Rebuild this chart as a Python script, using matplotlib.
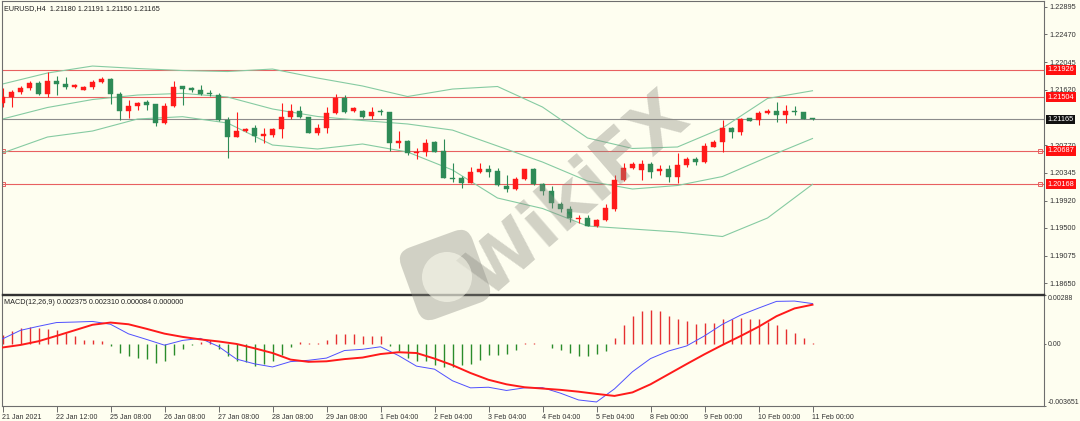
import matplotlib
matplotlib.use('Agg')
import matplotlib.pyplot as plt
import matplotlib.transforms as mtransforms
from matplotlib.patches import FancyBboxPatch, Circle

# EURUSD H4 candles (index 0 = oldest)
opens = [1.21418, 1.21505, 1.21582, 1.21648, 1.21729, 1.21551, 1.21755, 1.21714, 1.21659, 1.21622,
         1.21663, 1.21735, 1.21791, 1.21560, 1.21295, 1.21376, 1.21428, 1.21398, 1.21111, 1.21367,
         1.21679, 1.21643, 1.21622, 1.21576, 1.21545, 1.21157, 1.20901, 1.20988, 1.21030, 1.20907,
         1.20931, 1.21014, 1.21208, 1.21300, 1.21198, 1.20953, 1.21030, 1.21260, 1.21490, 1.21295,
         1.21295, 1.21218, 1.21290, 1.21275, 1.20809, 1.20835, 1.20651, 1.20671, 1.20815, 1.20681,
         1.20271, 1.20267, 1.20195, 1.20354, 1.20410, 1.20370, 1.20144, 1.20098, 1.20247, 1.20410,
         1.20170, 1.20072, 1.19868, 1.19787, 1.19633, 1.19658, 1.19535, 1.19623, 1.19791, 1.20236,
         1.20416, 1.20390, 1.20477, 1.20379, 1.20400, 1.20287, 1.20466, 1.20554, 1.20517, 1.20747,
         1.20815, 1.21039, 1.20977, 1.21183, 1.21157, 1.21269, 1.21300, 1.21234, 1.21300, 1.21275,
         1.21180]
highs = [1.21648, 1.21617, 1.21679, 1.21763, 1.21763, 1.21893, 1.21832, 1.21812, 1.21702, 1.21674,
         1.21771, 1.21812, 1.21794, 1.21582, 1.21464, 1.21438, 1.21464, 1.21402, 1.21413, 1.21751,
         1.21686, 1.21668, 1.21694, 1.21617, 1.21566, 1.21198, 1.21284, 1.21030, 1.21080, 1.21030,
         1.21034, 1.21413, 1.21398, 1.21376, 1.21203, 1.21091, 1.21361, 1.21551, 1.21540, 1.21352,
         1.21310, 1.21352, 1.21321, 1.21284, 1.20993, 1.20845, 1.20723, 1.20870, 1.20830, 1.20870,
         1.20492, 1.20298, 1.20431, 1.20492, 1.20466, 1.20416, 1.20313, 1.20287, 1.20410, 1.20416,
         1.20186, 1.20144, 1.19903, 1.19837, 1.19699, 1.19699, 1.19638, 1.19868, 1.20313, 1.20492,
         1.20517, 1.20543, 1.20517, 1.20466, 1.20466, 1.20646, 1.20585, 1.20585, 1.20799, 1.20850,
         1.21157, 1.21054, 1.21192, 1.21195, 1.21300, 1.21321, 1.21428, 1.21387, 1.21372, 1.21280,
         1.21191]
lows = [1.21356, 1.21352, 1.21563, 1.21617, 1.21533, 1.21505, 1.21536, 1.21628, 1.21651, 1.21610,
        1.21632, 1.21725, 1.21398, 1.21152, 1.21192, 1.21310, 1.21310, 1.21060, 1.21096, 1.21352,
        1.21387, 1.21582, 1.21545, 1.21525, 1.21142, 1.20569, 1.20891, 1.20977, 1.20824, 1.20799,
        1.20896, 1.20876, 1.21168, 1.21188, 1.20950, 1.20927, 1.20953, 1.21249, 1.21264, 1.21280,
        1.21188, 1.21168, 1.21234, 1.20686, 1.20723, 1.20620, 1.20554, 1.20604, 1.20661, 1.20262,
        1.20210, 1.20109, 1.20186, 1.20344, 1.20278, 1.20149, 1.20057, 1.20087, 1.20236, 1.20164,
        1.20006, 1.19802, 1.19745, 1.19597, 1.19581, 1.19531, 1.19515, 1.19607, 1.19765, 1.20221,
        1.20405, 1.20236, 1.20262, 1.20313, 1.20210, 1.20186, 1.20436, 1.20466, 1.20492, 1.20743,
        1.20671, 1.20876, 1.20927, 1.21142, 1.21080, 1.21249, 1.21131, 1.21115, 1.21234, 1.21165,
        1.21150]
closes = [1.21505, 1.21582, 1.21648, 1.21729, 1.21551, 1.21751, 1.21714, 1.21659, 1.21694, 1.21663,
          1.21740, 1.21791, 1.21560, 1.21295, 1.21376, 1.21418, 1.21387, 1.21111, 1.21367, 1.21668,
          1.21637, 1.21617, 1.21556, 1.21556, 1.21152, 1.20901, 1.20993, 1.21019, 1.20907, 1.20942,
          1.21014, 1.21208, 1.21300, 1.21198, 1.20962, 1.21030, 1.21260, 1.21490, 1.21284, 1.21341,
          1.21208, 1.21284, 1.21275, 1.20809, 1.20839, 1.20655, 1.20671, 1.20809, 1.20671, 1.20271,
          1.20252, 1.20195, 1.20354, 1.20410, 1.20364, 1.20160, 1.20098, 1.20247, 1.20400, 1.20175,
          1.20072, 1.19879, 1.19787, 1.19658, 1.19658, 1.19535, 1.19623, 1.19802, 1.20236, 1.20425,
          1.20482, 1.20477, 1.20364, 1.20410, 1.20278, 1.20462, 1.20554, 1.20517, 1.20762, 1.20815,
          1.21039, 1.20977, 1.21168, 1.21146, 1.21269, 1.21300, 1.21234, 1.21300, 1.21284, 1.21172,
          1.21165]

# Bollinger bands, read every 5 candles
band_idx = list(range(0, 91, 5))
band_upper = [1.21709, 1.21878, 1.21985, 1.21947, 1.21916, 1.21901, 1.21939, 1.21801, 1.21679, 1.21517,
              1.21632, 1.21671, 1.21356, 1.20881, 1.20720, 1.20743, 1.21034, 1.21487, 1.21606]
band_mid = [1.21172, 1.21349, 1.21471, 1.21540, 1.21566, 1.21510, 1.21326, 1.21211, 1.21149, 1.21096,
            1.21002, 1.20758, 1.20512, 1.20221, 1.20098, 1.20152, 1.20290, 1.20589, 1.20873]
band_lower = [1.20651, 1.20896, 1.20988, 1.21172, 1.21208, 1.21111, 1.20773, 1.20712, 1.20789, 1.20666,
              1.20390, 1.19960, 1.19799, 1.19530, 1.19484, 1.19438, 1.19369, 1.19653, 1.20170]

# MACD(12,26,9): lines read every 2 candles, histogram per candle
macd_idx = list(range(0, 91, 2))
macd_main = [0.000297, 0.000801, 0.001039, 0.001259, 0.001288, 0.001324, 0.001158, 0.000594, 0.000267,
             -0.000071, 0.000208, 0.000327, -0.000148, -0.000891, -0.001170, -0.001354, -0.001039,
             -0.000962, -0.000831, -0.000386, -0.000315, -0.000166, -0.000683, -0.001306, -0.001484,
             -0.002167, -0.002583, -0.002547, -0.002737, -0.002583, -0.002571, -0.002897, -0.003295,
             -0.003414, -0.002642, -0.001633, -0.000861, -0.000416, -0.000119, 0.000475, 0.001158,
             0.001692, 0.002108, 0.002505, 0.002523, 0.002375]
macd_signal = [-0.000208, -0.000059, 0.000160, 0.000475, 0.000801, 0.001128, 0.001259, 0.001158, 0.000891,
               0.000606, 0.000416, 0.000267, 0.000148, 0.0, -0.000255, -0.000534, -0.000920, -0.001051,
               -0.001021, -0.000891, -0.000801, -0.000594, -0.000487, -0.000534, -0.000861, -0.001247,
               -0.001710, -0.002108, -0.002375, -0.002547, -0.002624, -0.002701, -0.002808, -0.002939,
               -0.003058, -0.002850, -0.002375, -0.001781, -0.001187, -0.000606, -0.000059, 0.000463,
               0.001009, 0.001633, 0.002090, 0.002310]
macd_hist = [0.00055, 0.00075, 0.00095, 0.00101, 0.00095, 0.00089, 0.00081, 0.00065, 0.00046, 0.00026,
             0.00022, 0.00016, -0.00010, -0.00053, -0.00073, -0.00083, -0.00089, -0.00113, -0.00103, -0.00063,
             -0.00030, -0.00006, 0.00010, 0.00026, -0.00030, -0.00073, -0.00099, -0.00109, -0.00129, -0.00117,
             -0.00103, -0.00063, -0.00018, 0.00012, 0.00006, 0.00006, 0.00026, 0.00059, 0.00061, 0.00061,
             0.00049, 0.00049, 0.00046, -0.00010, -0.00044, -0.00083, -0.00103, -0.00103, -0.00123, -0.00133,
             -0.00137, -0.00123, -0.00117, -0.00093, -0.00065, -0.00063, -0.00057, -0.00038, 0.00006, 0.00006,
             0.00002, -0.00024, -0.00038, -0.00053, -0.00069, -0.00073, -0.00059, -0.00040, 0.00036, 0.00109,
             0.00164, 0.00194, 0.00200, 0.00194, 0.00164, 0.00144, 0.00135, 0.00119, 0.00121, 0.00125,
             0.00144, 0.00144, 0.00154, 0.00148, 0.00144, 0.00129, 0.00111, 0.00089, 0.00065, 0.00036,
             0.000084]

level_lines = [1.21926, 1.21504, 1.20687, 1.20168]
last_price = 1.21165
price_ticks = [1.22895, 1.22470, 1.22045, 1.21620, 1.20770, 1.20345, 1.19920, 1.19500, 1.19075, 1.18650]
price_tick_labels = ['1.22895', '1.22470', '1.22045', '1.21620', '1.20770', '1.20345', '1.19920',
                     '1.19500', '1.19075', '1.18650']
macd_ticks = [0.00288, 0.0, -0.003651]
macd_tick_labels = ['0.00288', '0.00', '-0.003651']
time_ticks = list(range(0, 91, 6))
time_labels = ['21 Jan 2021', '22 Jan 12:00', '25 Jan 08:00', '26 Jan 08:00', '27 Jan 08:00',
               '28 Jan 08:00', '29 Jan 08:00', '1 Feb 04:00', '2 Feb 04:00', '3 Feb 04:00',
               '4 Feb 04:00', '5 Feb 04:00', '8 Feb 00:00', '9 Feb 00:00', '10 Feb 00:00', '11 Feb 00:00']

BG = '#fefef0'
UP = '#ff1a1a'
DOWN = '#2e8b57'
FONT = 'Liberation Sans'

W, H = 1080, 421
fig = plt.figure(figsize=(W / 100, H / 100), dpi=100, facecolor=BG)

# panel geometry in pixels -> figure fractions
left_px, right_px = 1.5, 1044
ax = fig.add_axes([left_px / W, 1 - 294 / H, (right_px - left_px) / W, 293 / H], facecolor=BG)
ax2 = fig.add_axes([left_px / W, 1 - 406 / H, (right_px - left_px) / W, 111 / H], facecolor=BG)

xlim = (-1 / 9, (right_px - 2.5) / 9)

# ---- price panel ----
for lvl in level_lines:
    ax.axhline(lvl, color='#e86060', lw=0.8, zorder=1)
ax.axhline(last_price, color='#8c8c8c', lw=0.8, zorder=1)
for lvl in level_lines[2:]:
    ax.plot([0.05, 115.3], [lvl, lvl], ls='none', marker='s', ms=2.5, mfc='none', mec='#e86060', mew=0.7)

for band in (band_upper, band_mid, band_lower):
    ax.plot(band_idx, band, color='#86cba2', lw=0.8, zorder=2)

for i in range(len(opens)):
    col = UP if closes[i] >= opens[i] else DOWN
    ax.vlines(i, lows[i], highs[i], color=col, lw=0.8, zorder=3)
    lo, hi = min(opens[i], closes[i]), max(opens[i], closes[i])
    ax.bar(i, max(hi - lo, 0.00003), bottom=lo, width=0.62, color=col, edgecolor=col, lw=0.3, zorder=4)

ax.set_xlim(*xlim)
ax.set_ylim(1.18487, 1.22983)
ax.yaxis.tick_right()
ax.set_yticks(price_ticks)
ax.set_yticklabels(price_tick_labels, fontsize=5.3, family=FONT, color='#333333')
ax.tick_params(axis='y', length=2.5, width=0.6, pad=1.5, colors='#555555', labelcolor='#333333')
ax.set_xticks([])

blend = mtransforms.blended_transform_factory(ax.transAxes, ax.transData)
for lvl in level_lines:
    ax.text(1.0035, lvl, f'{lvl:.5f}', transform=blend, fontsize=5.3, family=FONT, color='white',
            va='center', ha='left', zorder=6,
            bbox=dict(boxstyle='square,pad=0.2', fc='#ff1010', ec='none'))
ax.text(1.0035, last_price, f'{last_price:.5f}', transform=blend, fontsize=5.3, family=FONT,
        color='white', va='center', ha='left', zorder=6,
        bbox=dict(boxstyle='square,pad=0.2', fc='#111111', ec='none'))

ax.text(0.002, 0.985, 'EURUSD,H4  1.21180 1.21191 1.21150 1.21165', transform=ax.transAxes,
        fontsize=5.2, family=FONT, color='#222222', va='top', ha='left')

# ---- MACD panel ----
for i, v in enumerate(macd_hist):
    ax2.vlines(i, 0, v, color='#e53030' if v >= 0 else '#2a8c2a', lw=1.0, zorder=2)
ax2.plot(macd_idx, macd_main, color='#5050ff', lw=0.7, zorder=3)
ax2.plot(macd_idx, macd_signal, color='#ff1a1a', lw=1.4, zorder=4)

ax2.set_xlim(*xlim)
ax2.set_ylim(-0.003651, 0.00288)
ax2.yaxis.tick_right()
ax2.set_yticks(macd_ticks)
ax2.set_yticklabels(macd_tick_labels, fontsize=5.0, family=FONT)
ax2.tick_params(axis='y', length=1.5, width=0.6, pad=1.0, colors='#555555', labelcolor='#333333')
ylabs = ax2.get_yticklabels()
ylabs[0].set_va('top')
ylabs[-1].set_va('bottom')
ax2.set_xticks(time_ticks)
ax2.set_xticklabels(time_labels, fontsize=5.1, family=FONT)
ax2.tick_params(axis='x', length=4, width=0.6, pad=1.5, colors='#555555', labelcolor='#333333')
for lbl in ax2.get_xticklabels():
    lbl.set_ha('left')

ax2.text(0.002, 0.96, 'MACD(12,26,9) 0.002375 0.002310 0.000084 0.000000', transform=ax2.transAxes,
         fontsize=5.2, family=FONT, color='#222222', va='top', ha='left')

for a in (ax, ax2):
    for s in a.spines.values():
        s.set_color('#6e6e6e')
        s.set_linewidth(0.8)
ax.spines['bottom'].set_color('#333333')
ax.spines['bottom'].set_linewidth(1.0)
ax2.spines['top'].set_color('#333333')
ax2.spines['top'].set_linewidth(1.0)

# ---- watermark ----
px = mtransforms.IdentityTransform()
cx, cy = 445, H - 275
rot = mtransforms.Affine2D().rotate_deg_around(cx, cy, 20)
logo = FancyBboxPatch((cx - 38, cy - 38), 76, 76, boxstyle='round,pad=0,rounding_size=14',
                      fc='#8a8a80', ec='none', alpha=0.38, transform=rot + px, zorder=10)
fig.add_artist(logo)
fig.add_artist(Circle((cx + 2, cy - 2), 25, fc=BG, ec='none', alpha=0.55, transform=px, zorder=11))
fig.text(578, H - 195, 'WikiFX', transform=px, rotation=41, fontsize=50, fontweight='bold',
         color='#8a8a80', alpha=0.38, ha='center', va='center', zorder=10)

fig.savefig('out.png', dpi=100, facecolor=BG)
